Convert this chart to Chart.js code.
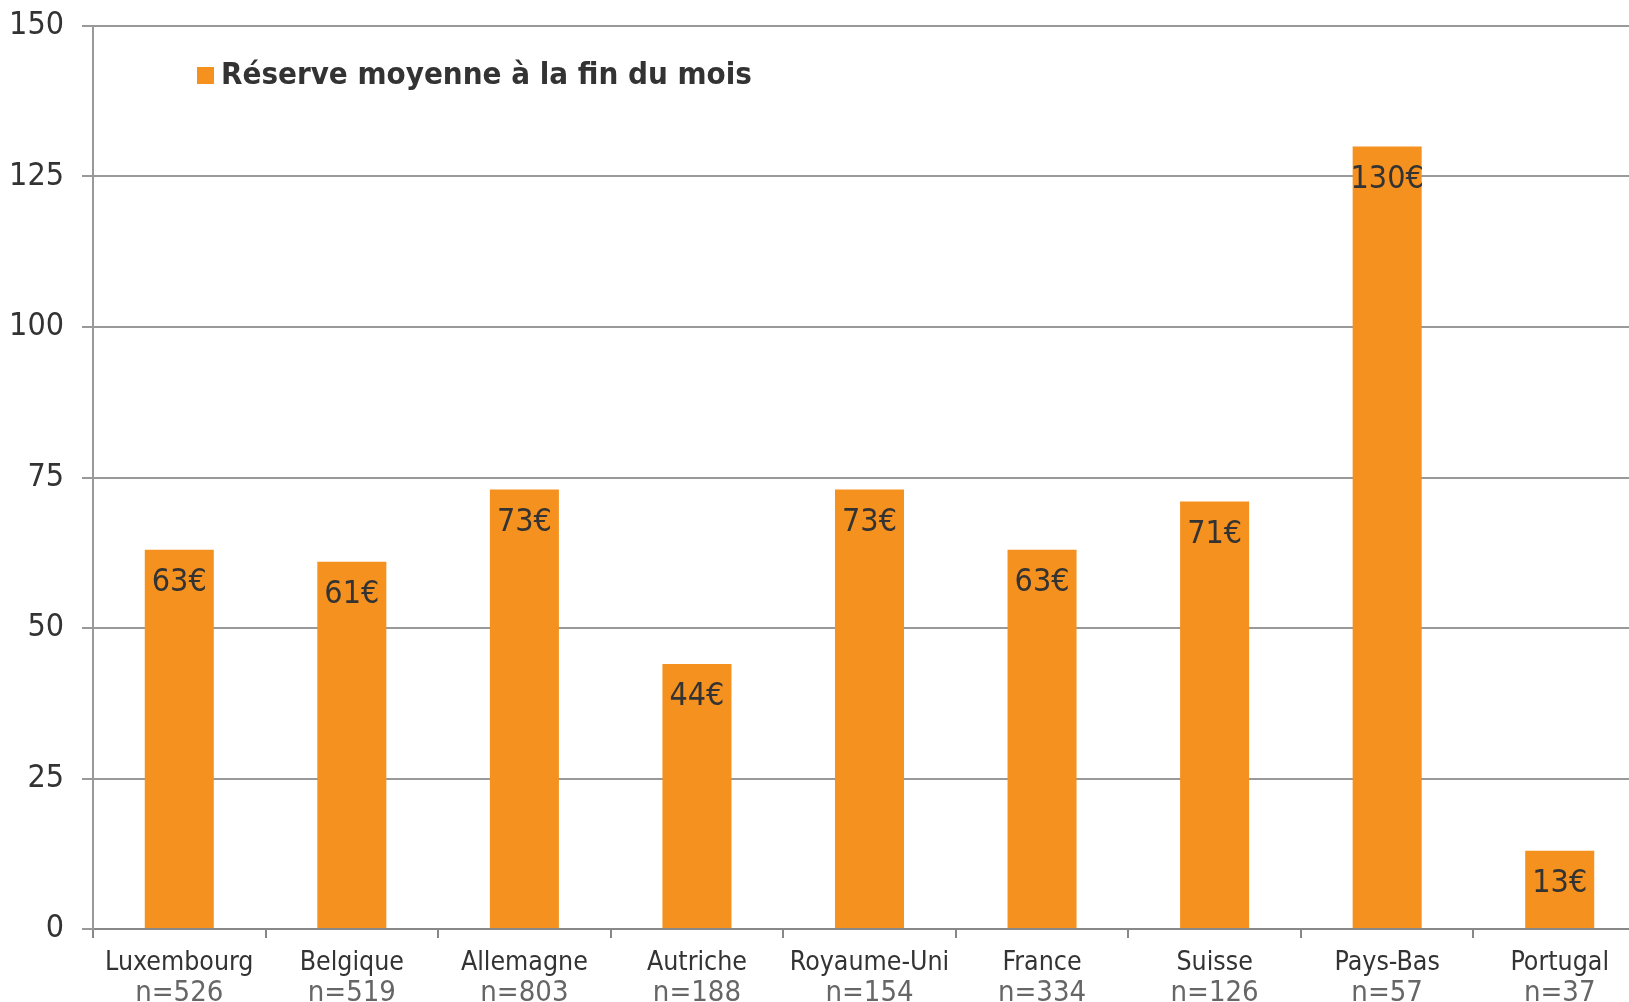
<!DOCTYPE html>
<html lang="fr">
<head>
  <meta charset="UTF-8">
  <title>Réserve moyenne à la fin du mois</title>
  <script src="https://cdn.jsdelivr.net/npm/chart.js"></script>
  <style>
    html, body {
      margin: 0;
      padding: 0;
      background: #fff;
      overflow: hidden;
    }
    .wrap {
      position: relative;
      width: 1660px;
      height: 1002px;
    }
    .legend {
      position: absolute;
      left: 197px;
      top: 55px;
      font-family: "DejaVu Sans Condensed", "DejaVu Sans", sans-serif;
      font-weight: bold;
      font-size: 31px;
      color: #333;
      white-space: nowrap;
    }
    .legend span {
      display: inline-block;
      width: 17px;
      height: 17px;
      background: #f5911e;
      margin-right: 7px;
    }
  </style>
</head>
<body>
  <div class="wrap">
    <canvas id="chart" width="1660" height="1002"></canvas>
    <div class="legend"><span></span>Réserve moyenne à la fin du mois</div>
  </div>

  <script>
    const countries = ['Luxembourg', 'Belgique', 'Allemagne', 'Autriche', 'Royaume-Uni', 'France', 'Suisse', 'Pays-Bas', 'Portugal'];
    const sampleSizes = [526, 519, 803, 188, 154, 334, 126, 57, 37];
    const reserve = [63, 61, 73, 44, 73, 63, 71, 130, 13];
    const yTicks = [0, 25, 50, 75, 100, 125, 150];

    const fontFamily = '"DejaVu Sans Condensed", "DejaVu Sans", sans-serif';

    // valeurs en euros à l'intérieur des barres, sous le sommet
    const valueLabels = {
      id: 'valueLabels',
      afterDatasetsDraw(chart) {
        const ctx = chart.ctx;
        const meta = chart.getDatasetMeta(0);
        ctx.save();
        ctx.font = '32px ' + fontFamily;
        ctx.fillStyle = '#333';
        ctx.textAlign = 'center';
        ctx.textBaseline = 'middle';
        meta.data.forEach((bar, i) => {
          ctx.fillText(reserve[i] + '€', bar.x, bar.y + 33);
        });
        ctx.restore();
      }
    };

    // deuxième ligne des étiquettes : taille de l'échantillon
    const sampleLabels = {
      id: 'sampleLabels',
      afterDraw(chart) {
        const ctx = chart.ctx;
        const x = chart.scales.x;
        ctx.save();
        ctx.font = '29px ' + fontFamily;
        ctx.fillStyle = '#666';
        ctx.textAlign = 'center';
        ctx.textBaseline = 'middle';
        sampleSizes.forEach((n, i) => {
          ctx.fillText('n=' + n, x.getPixelForValue(i), x.bottom - 9);
        });
        ctx.restore();
      }
    };

    new Chart(document.getElementById('chart'), {
      type: 'bar',
      data: {
        labels: countries,
        datasets: [{
          label: 'Réserve moyenne à la fin du mois',
          data: reserve,
          backgroundColor: '#f5911e',
          barPercentage: 0.4,
          categoryPercentage: 1.0
        }]
      },
      options: {
        responsive: false,
        animation: false,
        layout: { padding: { top: 26, right: 14, left: 0, bottom: 0 } },
        plugins: {
          legend: { display: false },
          tooltip: { enabled: false }
        },
        scales: {
          x: {
            grid: {
              offset: true,
              drawOnChartArea: false,
              drawTicks: true,
              tickLength: 9,
              color: '#888',
              lineWidth: 2
            },
            border: { color: '#888', width: 2 },
            ticks: {
              color: '#333',
              font: { family: fontFamily, size: 26.5 },
              padding: 9,
              maxRotation: 0,
              autoSkip: false
            },
            afterFit(scale) { scale.height = 73; }
          },
          y: {
            min: 0,
            max: 150,
            afterBuildTicks(scale) {
              scale.ticks = yTicks.map(v => ({ value: v }));
            },
            grid: {
              color: '#999',
              lineWidth: 2,
              tickLength: 11
            },
            border: { color: '#999', width: 2 },
            ticks: {
              color: '#333',
              font: { family: fontFamily, size: 32 },
              padding: 18
            },
            afterFit(scale) {
              scale.width = 93;
              scale.paddingTop = 0;
              scale.paddingBottom = 0;
            }
          }
        }
      },
      plugins: [valueLabels, sampleLabels]
    });
  </script>
</body>
</html>
